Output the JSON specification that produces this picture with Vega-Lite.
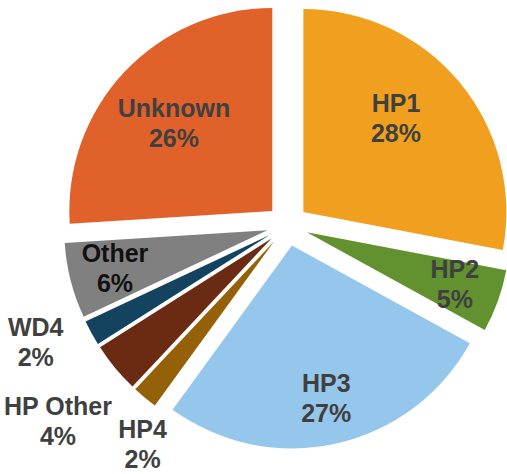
{
  "$schema": "https://vega.github.io/schema/vega-lite/v6.json",
  "width": 400,
  "height": 400,
  "autosize": "none",
  "padding": {"left": 87.4, "top": 25.2, "right": 19.6, "bottom": 48.8},
  "background": "white",
  "config": {"view": {"stroke": null}},
  "data": {
    "values": [
      {"name": "HP1", "value": 28, "k": 1},
      {"name": "HP2", "value": 5, "k": 2},
      {"name": "HP3", "value": 27, "k": 3},
      {"name": "HP4", "value": 2, "k": 4},
      {"name": "HP Other", "value": 4, "k": 5},
      {"name": "WD4", "value": 2, "k": 6},
      {"name": "Other", "value": 6, "k": 7},
      {"name": "Unknown", "value": 26, "k": 8}
    ]
  },
  "transform": [
    {"stack": "value", "groupby": [], "sort": [{"field": "k", "order": "ascending"}], "as": ["v0", "v1"]},
    {"calculate": "(datum.v0 + datum.v1) / 2", "as": "vm"},
    {"calculate": "datum.name + '\\n' + datum.value + '%'", "as": "lbl"}
  ],
  "layer": [
    {
      "mark": {
        "type": "arc",
        "outerRadius": 203,
        "xOffset": {"expr": "20.7 * sin((datum.v0 + datum.v1) * PI / 100)"},
        "yOffset": {"expr": "-20.7 * cos((datum.v0 + datum.v1) * PI / 100)"}
      },
      "encoding": {
        "theta": {"field": "v0", "type": "quantitative", "scale": {"domain": [0, 100], "range": [0, 6.283185307179586]}},
        "theta2": {"field": "v1"},
        "color": {
          "field": "name",
          "type": "nominal",
          "legend": null,
          "scale": {
            "domain": ["HP1", "HP2", "HP3", "HP4", "HP Other", "WD4", "Other", "Unknown"],
            "range": ["#F0A01E", "#62922F", "#95C6EC", "#946008", "#6B2B12", "#14435F", "#808080", "#E0622A"]
          }
        }
      }
    },
    {
      "transform": [{"filter": {"field": "name", "oneOf": ["HP2", "HP3", "Other"]}}],
      "mark": {"type": "text", "radius": 178, "dy": -15, "font": "Liberation Sans", "fontSize": 25, "fontWeight": "bold", "lineHeight": 30, "lineBreak": "\n", "align": "center", "baseline": "middle"},
      "encoding": {
        "theta": {"field": "vm", "type": "quantitative"},
        "text": {"field": "lbl", "type": "nominal"},
        "color": {"condition": {"test": "datum.name === 'Other'", "value": "#111111"}, "value": "#404040"}
      }
    },
    {
      "transform": [{"filter": {"field": "name", "equal": "HP1"}}],
      "mark": {"type": "text", "radius": 152, "thetaOffset": -0.084, "dy": -15, "font": "Liberation Sans", "fontSize": 25, "fontWeight": "bold", "lineHeight": 30, "lineBreak": "\n", "align": "center", "baseline": "middle", "color": "#404040"},
      "encoding": {
        "theta": {"field": "vm", "type": "quantitative"},
        "text": {"field": "lbl", "type": "nominal"}
      }
    },
    {
      "transform": [{"filter": {"field": "name", "equal": "Unknown"}}],
      "mark": {"type": "text", "radius": 152, "thetaOffset": -0.026, "dy": -15, "font": "Liberation Sans", "fontSize": 25, "fontWeight": "bold", "lineHeight": 30, "lineBreak": "\n", "align": "center", "baseline": "middle", "color": "#404040"},
      "encoding": {
        "theta": {"field": "vm", "type": "quantitative"},
        "text": {"field": "lbl", "type": "nominal"}
      }
    },
    {
      "transform": [{"filter": {"field": "name", "equal": "WD4"}}],
      "mark": {"type": "text", "radius": 278, "thetaOffset": 0.064, "dy": -15, "font": "Liberation Sans", "fontSize": 25, "fontWeight": "bold", "lineHeight": 30, "lineBreak": "\n", "align": "center", "baseline": "middle", "color": "#404040"},
      "encoding": {
        "theta": {"field": "vm", "type": "quantitative"},
        "text": {"field": "lbl", "type": "nominal"}
      }
    },
    {
      "transform": [{"filter": {"field": "name", "equal": "HP Other"}}],
      "mark": {"type": "text", "radius": 302.6, "thetaOffset": -0.019, "dy": -15, "font": "Liberation Sans", "fontSize": 25, "fontWeight": "bold", "lineHeight": 30, "lineBreak": "\n", "align": "center", "baseline": "middle", "color": "#404040"},
      "encoding": {
        "theta": {"field": "vm", "type": "quantitative"},
        "text": {"field": "lbl", "type": "nominal"}
      }
    },
    {
      "transform": [{"filter": {"field": "name", "equal": "HP4"}}],
      "mark": {"type": "text", "radius": 263, "thetaOffset": -0.108, "dy": -15, "font": "Liberation Sans", "fontSize": 25, "fontWeight": "bold", "lineHeight": 30, "lineBreak": "\n", "align": "center", "baseline": "middle", "color": "#404040"},
      "encoding": {
        "theta": {"field": "vm", "type": "quantitative"},
        "text": {"field": "lbl", "type": "nominal"}
      }
    }
  ]
}
